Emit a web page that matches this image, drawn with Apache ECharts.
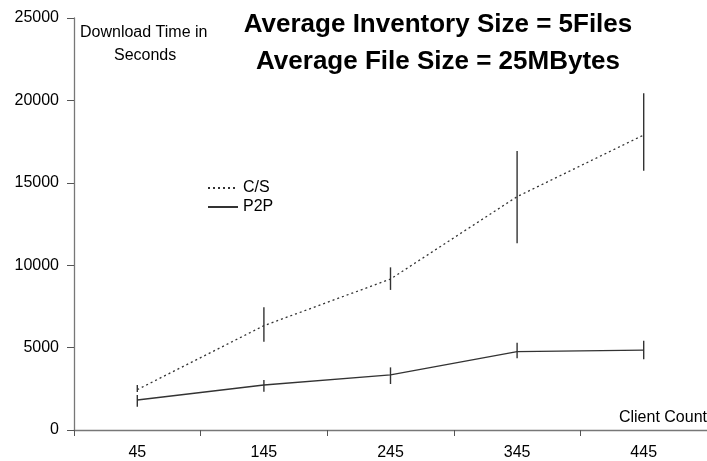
<!DOCTYPE html>
<html>
<head>
<meta charset="utf-8">
<script src="https://cdn.jsdelivr.net/npm/echarts@6/dist/echarts.min.js"></script>
<style>
html,body{margin:0;padding:0;background:#fff;}
#chart{width:707px;height:461px;}
</style>
</head>
<body>
<div id="chart"></div>
<script>
// Data
var categories = ["45", "145", "245", "345", "445"];
var csMean  = [2450, 6330, 9160, 14160, 17900];
var csLow   = [2300, 5360, 8500, 11330, 15730];
var csHigh  = [2730, 7450, 9870, 16930, 20430];
var p2pMean = [1820, 2730, 3340, 4750, 4850];
var p2pLow  = [1410, 2320, 2790, 4350, 4290];
var p2pHigh = [2120, 3030, 3800, 5300, 5420];
var yTicks  = [0, 5000, 10000, 15000, 20000, 25000];

var titleLines = ["Average Inventory Size = 5Files", "Average File Size = 25MBytes"];

var FONT = '"Liberation Sans", Arial, sans-serif';

function errData(low, high) {
  return categories.map(function (c, i) { return [i, low[i], high[i]]; });
}

function errRender(params, api) {
  var x = api.value(0);
  var lo = api.coord([x, api.value(1)]);
  var hi = api.coord([x, api.value(2)]);
  return {
    type: 'line',
    shape: { x1: lo[0], y1: lo[1], x2: hi[0], y2: hi[1] },
    style: { stroke: '#333', lineWidth: 1.4 }
  };
}

var chart = echarts.init(document.getElementById('chart'), null, { renderer: 'canvas' });
chart.setOption({
  backgroundColor: '#ffffff',
  animation: false,
  textStyle: { fontFamily: FONT },
  grid: { left: 74, right: -7, top: 18, bottom: 31, containLabel: false },
  legend: {
    left: 202, top: 175, orient: 'vertical', itemGap: 3,
    itemWidth: 30, itemHeight: 12,
    itemStyle: { opacity: 0 },
    textStyle: { fontFamily: FONT, fontSize: 16, color: '#000' },
    data: ['C/S', 'P2P']
  },
  graphic: [
    { type: 'text', left: 80, top: 25, style: { text: 'Download Time in', font: '16px ' + FONT, fill: '#000' } },
    { type: 'text', left: 114, top: 48, style: { text: 'Seconds', font: '16px ' + FONT, fill: '#000' } },
    { type: 'text', right: 0, top: 410, style: { text: 'Client Count', font: '16px ' + FONT, fill: '#000' } },
    { type: 'text', x: 438, y: 12, style: { text: titleLines[0], font: 'bold 26px ' + FONT, fill: '#000', align: 'center' } },
    { type: 'text', x: 438, y: 49, style: { text: titleLines[1], font: 'bold 26px ' + FONT, fill: '#000', align: 'center' } }
  ],
  xAxis: {
    type: 'category', data: categories, boundaryGap: true,
    axisLine: { lineStyle: { color: '#777', width: 1.3 } },
    axisTick: { show: true, length: 6, inside: false, lineStyle: { color: '#555' } },
    axisLabel: { fontSize: 16, color: '#000', margin: 15, fontFamily: FONT },
    splitLine: { show: false }
  },
  yAxis: {
    type: 'value', min: 0, max: 25000, interval: 5000,
    axisLine: { show: true, lineStyle: { color: '#777', width: 1.3 } },
    axisTick: { show: true, length: 7, lineStyle: { color: '#555' } },
    axisLabel: { fontSize: 16, color: '#000', margin: 15, fontFamily: FONT,
      formatter: function (v) { return yTicks.indexOf(v) >= 0 ? String(v) : ''; } },
    splitLine: { show: false }
  },
  series: [
    { name: 'C/S', type: 'line', data: csMean, symbol: 'none', color: '#333',
      lineStyle: { color: '#333', width: 1.3, type: [2, 3] } },
    { name: 'P2P', type: 'line', data: p2pMean, symbol: 'none', color: '#333',
      lineStyle: { color: '#333', width: 1.3, type: 'solid' } },
    { name: 'csErr', type: 'custom', data: errData(csLow, csHigh), renderItem: errRender, z: 3 },
    { name: 'p2pErr', type: 'custom', data: errData(p2pLow, p2pHigh), renderItem: errRender, z: 3 }
  ]
});
</script>
</body>
</html>
